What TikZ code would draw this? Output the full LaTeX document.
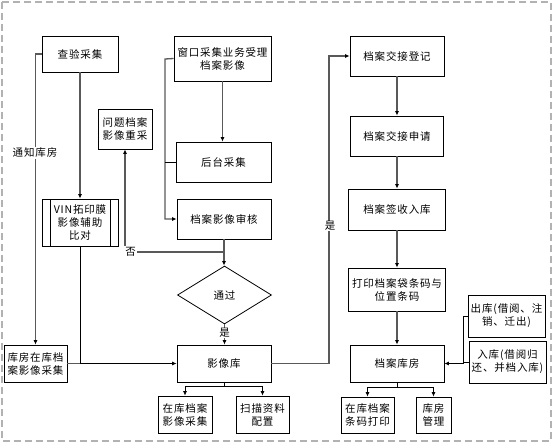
\documentclass[tikz,border=0pt]{standalone}
\usepackage{fontspec}
\newfontfamily\cjk[LetterSpace=8]{Noto Sans CJK SC}
\usetikzlibrary{arrows.meta,shapes.geometric}
\begin{document}
\begin{tikzpicture}[x=1pt,y=-1pt,
  every node/.style={font=\cjk\fontsize{10.5}{13}\selectfont},
  box/.style={draw=black,line width=0.8pt,align=center,inner sep=1pt,fill=white},
  conn/.style={draw=black!65,line width=1.3pt},
  thin/.style={draw=black,line width=0.7pt},
  arr/.style={-{Latex[length=4.5pt,width=4pt,color=black]}},
  lbl/.style={fill=white,inner sep=1pt}]
\useasboundingbox (0,0) rectangle (554,444);
\draw[black!30,line width=1.6pt,dash pattern=on 7pt off 4pt] (2,2) rectangle (551,441);
% left/middle column
\node[box,minimum width=76pt,minimum height=36pt] (cy) at (80,54) {查验采集};
\node[box,minimum width=97pt,minimum height=45pt] (ck) at (222.5,58.5) {窗口采集业务受理\\档案影像};
\node[box,minimum width=54pt,minimum height=40pt] (wt) at (125,129) {问题档案\\影像重采};
\node[box,minimum width=95pt,minimum height=40pt] (ht) at (223.5,162) {后台采集};
\node[box,minimum width=94pt,minimum height=40pt] (sh) at (224,219) {档案影像审核};
\node[box,minimum width=76pt,minimum height=47pt] (vin) at (80,222.5) {VIN拓印膜\\影像辅助\\比对};
\draw[line width=0.8pt] (50.5,199) -- (50.5,246) (110.5,199) -- (110.5,246);
\node[draw=black,line width=0.8pt,diamond,aspect=1.62,minimum width=94pt,minimum height=58pt,inner sep=0pt] (tg) at (224.5,295) {通过};
\node[box,minimum width=94pt,minimum height=37pt] (yxk) at (224,363.5) {影像库};
\node[box,minimum width=63pt,minimum height=37pt] (kf) at (35.5,363.5) {库房在库档\\案影像采集};
\node[box,minimum width=54pt,minimum height=37pt] (zk) at (185,414.5) {在库档案\\影像采集};
\node[box,minimum width=53pt,minimum height=37pt] (sm) at (262.5,414.5) {扫描资料\\配置};
% right column
\node[box,minimum width=94pt,minimum height=40pt] (jd) at (397,56) {档案交接登记};
\node[box,minimum width=93pt,minimum height=40pt] (sq) at (397,136) {档案交接申请};
\node[box,minimum width=97pt,minimum height=41pt] (qs) at (397,209.5) {档案签收入库};
\node[box,minimum width=97pt,minimum height=43pt] (dy) at (397,289.5) {打印档案袋条码与\\位置条码};
\node[box,minimum width=94pt,minimum height=37pt] (kff) at (397,363.5) {档案库房};
\node[box,minimum width=77pt,minimum height=42pt] (cku) at (506.5,316) {出库(借阅、注\\销、迁出)};
\node[box,minimum width=77pt,minimum height=42pt] (rku) at (507.5,362) {入库(借阅归\\还、并档入库)};
\node[box,minimum width=53pt,minimum height=36pt] (tm) at (367.5,415) {在库档案\\条码打印};
\node[box,minimum width=35pt,minimum height=36pt] (gl) at (433.5,415) {库房\\管理};
% helper coordinates
\coordinate (vb) at (80,363.5);
\coordinate (wl) at (165,59);
\coordinate (hl) at (165,162);
\coordinate (nb) at (224.5,252);
\coordinate (yr) at (329,363.5);
\coordinate (yb) at (224,386);
\coordinate (kb) at (397,387);
\coordinate (rx) at (463,316);
\coordinate (rr) at (463,362);
% connectors
\draw[conn,arr] (cy) -- (vin);
\draw[conn,arr] (cy.west) -| (kf.north);
\node[lbl] (tz) at (35,153) {通知库房};
\draw[thin,arr] (vin.south) |- (yxk.west);
\draw[conn] (kf.east) -- (vb);
\draw[conn,arr] (ck.west) -- (wl) |- (sh.west);
\draw[thin] (ht.west) -- (hl);
\draw[conn,arr] (ck.south) -- (ck.south |- ht.north);
\draw[conn,arr] (sh.south) -- (sh.south |- tg.north);
\draw[conn,arr] (nb) -| (wt.south);
\node[lbl] (no) at (130.5,252) {否};
\draw[conn,arr] (tg.south) -- (tg.south |- yxk.north);
\node[lbl,inner sep=0pt] (yes1) at (224.5,333) {是};
\draw[conn,arr] (yxk.east) -- (yr) |- (jd.west);
\node[lbl,inner sep=0pt] (yes2) at (330,226) {是};
\draw[thin] (yxk.south) -- (yb);
\draw[thin,arr] (yb) -| (zk.north);
\draw[thin,arr] (yb) -| (sm.north);
\draw[conn,arr] (jd) -- (sq);
\draw[conn,arr] (sq) -- (qs);
\draw[conn,arr] (qs) -- (dy);
\draw[conn,arr] (dy) -- (kff);
\draw[thin] (cku.west) -- (rx);
\draw[thin,arr] (rx) |- (kff.east);
\draw[thin] (rku.west) -- (rr);
\draw[thin] (kff.south) -- (kb);
\draw[thin,arr] (kb) -| (tm.north);
\draw[thin,arr] (kb) -| (gl.north);
\end{tikzpicture}
\end{document}
